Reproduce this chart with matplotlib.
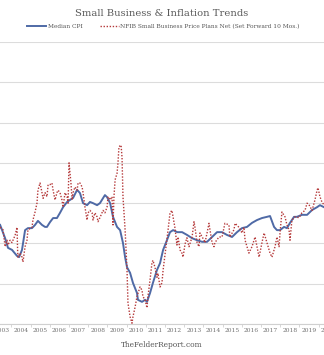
import matplotlib
matplotlib.use("Agg")
import matplotlib.pyplot as plt
from matplotlib.ticker import FixedLocator, NullFormatter

# Median CPI (y/y %), decimal year
cpi_t = [2003.41, 2003.67, 2003.82, 2004.03, 2004.29, 2004.40, 2004.55, 2004.71, 2004.86, 2005.07,
         2005.23, 2005.38, 2005.59, 2005.75, 2005.85, 2006.01, 2006.17, 2006.37, 2006.53, 2006.69,
         2006.90, 2007.05, 2007.21, 2007.42, 2007.57, 2007.73, 2007.94, 2008.09, 2008.25, 2008.46,
         2008.61, 2008.87, 2008.98, 2009.14, 2009.29, 2009.50, 2009.66, 2009.81, 2009.92, 2010.02,
         2010.18, 2010.33, 2010.54, 2010.59, 2010.80, 2010.96, 2011.06, 2011.22, 2011.37, 2011.58,
         2011.74, 2011.90, 2012.10, 2012.26, 2012.42, 2012.64, 2012.89, 2013.15, 2013.41, 2013.67,
         2013.93, 2014.19, 2014.45, 2014.71, 2014.97, 2015.23, 2015.49, 2015.75, 2016.01, 2016.27,
         2016.53, 2016.79, 2017.05, 2017.31, 2017.47, 2017.68, 2017.83, 2017.99, 2018.20, 2018.35,
         2018.51, 2018.72, 2018.87, 2019.13, 2019.40, 2019.66, 2019.92, 2020.07, 2020.28]
cpi_v = [2.46, 2.13, 1.89, 1.84, 1.69, 1.66, 1.84, 2.33, 2.38, 2.38,
         2.46, 2.56, 2.46, 2.41, 2.41, 2.53, 2.63, 2.63, 2.76, 2.90,
         3.03, 3.08, 3.13, 3.33, 3.25, 3.00, 2.95, 3.03, 3.00, 2.95,
         3.00, 3.20, 3.15, 3.00, 2.66, 2.41, 2.33, 2.01, 1.66, 1.41,
         1.27, 1.02, 0.77, 0.60, 0.55, 0.60, 0.55, 0.77, 1.02, 1.34,
         1.51, 1.84, 2.08, 2.28, 2.33, 2.28, 2.28, 2.21, 2.13, 2.08,
         2.04, 2.04, 2.16, 2.28, 2.28, 2.21, 2.16, 2.28, 2.38, 2.41,
         2.51, 2.58, 2.63, 2.66, 2.68, 2.41, 2.33, 2.33, 2.41, 2.38,
         2.51, 2.66, 2.66, 2.71, 2.71, 2.83, 2.90, 2.95, 2.90]

# NFIB price plans net (%), set forward 10 months
nfib_t = [2003.41, 2003.56, 2003.67, 2003.77, 2003.82, 2003.93, 2004.03, 2004.08, 2004.19, 2004.29,
          2004.32, 2004.34, 2004.45, 2004.55, 2004.60, 2004.71, 2004.81, 2004.86, 2005.07, 2005.12,
          2005.23, 2005.33, 2005.38, 2005.49, 2005.59, 2005.65, 2005.75, 2005.85, 2005.91, 2006.01,
          2006.11, 2006.17, 2006.27, 2006.37, 2006.43, 2006.53, 2006.63, 2006.69, 2006.79, 2006.90,
          2006.95, 2007.00, 2007.10, 2007.16, 2007.21, 2007.31, 2007.42, 2007.47, 2007.57, 2007.68,
          2007.73, 2007.83, 2007.94, 2007.99, 2008.09, 2008.20, 2008.25, 2008.35, 2008.46, 2008.51,
          2008.61, 2008.77, 2008.87, 2008.98, 2009.03, 2009.14, 2009.24, 2009.29, 2009.34, 2009.40,
          2009.50, 2009.55, 2009.60, 2009.71, 2009.76, 2009.81, 2009.92, 2010.02, 2010.07, 2010.18,
          2010.28, 2010.33, 2010.44, 2010.54, 2010.59, 2010.70, 2010.80, 2010.85, 2010.96, 2011.06,
          2011.11, 2011.22, 2011.32, 2011.37, 2011.48, 2011.58, 2011.63, 2011.74, 2011.84, 2011.90,
          2012.00, 2012.10, 2012.16, 2012.26, 2012.36, 2012.42, 2012.52, 2012.62, 2012.68, 2012.78,
          2012.88, 2012.94, 2013.04, 2013.14, 2013.25, 2013.41, 2013.51, 2013.56, 2013.67, 2013.77,
          2013.82, 2014.03, 2014.08, 2014.19, 2014.29, 2014.34, 2014.45, 2014.55, 2014.60, 2014.81,
          2014.97, 2015.12, 2015.33, 2015.38, 2015.59, 2015.65, 2015.85, 2016.01, 2016.11, 2016.17,
          2016.37, 2016.53, 2016.69, 2016.90, 2017.05, 2017.16, 2017.31, 2017.47, 2017.57, 2017.73,
          2017.83, 2017.94, 2017.99, 2018.09, 2018.25, 2018.35, 2018.46, 2018.51, 2018.61, 2018.77,
          2018.98, 2019.13, 2019.29, 2019.40, 2019.50, 2019.66, 2019.81, 2019.92, 2019.97, 2020.07,
          2020.18, 2020.28]
nfib_v = [12.0, 11.7, 9.6, 10.4, 9.8, 10.4, 10.1, 10.4, 11.0, 12.0,
          9.2, 8.3, 8.8, 8.3, 7.7, 9.6, 10.4, 11.7, 12.0, 12.9,
          13.9, 15.0, 16.6, 17.5, 16.3, 15.6, 16.3, 15.8, 17.3, 17.3,
          17.5, 16.6, 15.4, 16.3, 16.6, 16.3, 15.4, 14.5, 16.3, 15.8,
          15.0, 20.0, 17.5, 15.4, 16.3, 17.0, 16.6, 17.5, 17.5, 17.0,
          16.3, 14.5, 12.9, 13.8, 14.1, 13.8, 12.9, 13.8, 13.3, 12.7,
          13.2, 14.1, 13.8, 14.5, 15.8, 15.4, 15.8, 12.3, 15.8, 17.9,
          18.7, 20.0, 22.0, 22.2, 20.7, 15.8, 11.7, 6.7, 2.6, 0.9,
          0.1, 0.9, 2.1, 3.4, 3.8, 4.6, 4.2, 3.4, 3.0, 2.0,
          3.4, 5.5, 7.6, 7.9, 7.0, 5.8, 6.3, 4.6, 5.1, 6.7,
          8.6, 10.4, 11.7, 13.8, 14.1, 13.3, 11.9, 9.8, 10.8, 9.2,
          8.8, 8.3, 9.9, 10.7, 9.6, 10.8, 12.7, 12.0, 10.1, 9.6,
          11.3, 10.4, 10.1, 11.3, 12.5, 11.7, 10.1, 9.6, 10.1, 10.8,
          10.8, 12.5, 12.3, 10.8, 11.7, 12.5, 12.0, 11.3, 12.0, 10.4,
          8.8, 9.6, 10.8, 8.3, 10.1, 11.3, 10.1, 8.8, 8.3, 9.6,
          10.8, 9.6, 11.3, 13.9, 13.3, 12.3, 11.7, 10.4, 12.9, 13.3,
          13.2, 13.8, 14.1, 15.0, 14.8, 14.1, 15.4, 16.6, 16.9, 15.8,
          15.1, 14.8]

years = list(range(2003, 2021))

fig = plt.figure(figsize=(3.24, 3.55), dpi=100)
plt.rcParams['font.family'] = ['DejaVu Serif']

ax = fig.add_axes([-0.05, 0.0873, 1.10, 0.7944])
ax.set_xlim(2002.56, 2021.125)
ax.set_ylim(0, 7)
ax.set_yticks(range(0, 8))
ax.yaxis.grid(True, color='#dcdcdc', linewidth=0.8)
ax.set_axisbelow(True)
ax.tick_params(axis='y', left=False, labelleft=False)
for s in ['top', 'left', 'right']:
    ax.spines[s].set_visible(False)
ax.spines['bottom'].set_color('#d0d0d0')
ax.spines['bottom'].set_linewidth(0.8)

ax.xaxis.set_major_locator(FixedLocator([y + 0.5 for y in years]))
ax.set_xticklabels([str(y) for y in years], fontsize=4.3, color='#707070')
ax.xaxis.set_minor_locator(FixedLocator(years + [2021]))
ax.xaxis.set_minor_formatter(NullFormatter())
ax.tick_params(axis='x', which='major', length=0, pad=3)
ax.tick_params(axis='x', which='minor', length=2.5, color='#d0d0d0')

ax.plot(cpi_t, cpi_v, color='#4f6aa6', linewidth=1.4, label='Median CPI')

ax2 = ax.twinx()
ax2.set_ylim(0, 35)
ax2.axis('off')
ax2.plot(nfib_t, nfib_v, color='#b5393a', linewidth=1.0, linestyle=(0, (1, 1.2)),
         label='NFIB Small Business Price Plans Net (Set Forward 10 Mos.)')

fig.text(0.5, 0.975, 'Small Business & Inflation Trends', ha='center', va='top',
         fontsize=7.2, color='#5a5a5a')

h1, l1 = ax.get_legend_handles_labels()
h2, l2 = ax2.get_legend_handles_labels()
fig.legend(h1 + h2, l1 + l2, loc='center', bbox_to_anchor=(0.505, 0.925), ncol=2,
           frameon=False, fontsize=4.2, handlelength=3.2, handletextpad=0.3,
           columnspacing=3.0, labelcolor='#555555')

fig.text(0.5, 0.027, 'TheFelderReport.com', ha='center', va='center',
         fontsize=5.3, color='#555555')

fig.savefig('out.png', dpi=100)
